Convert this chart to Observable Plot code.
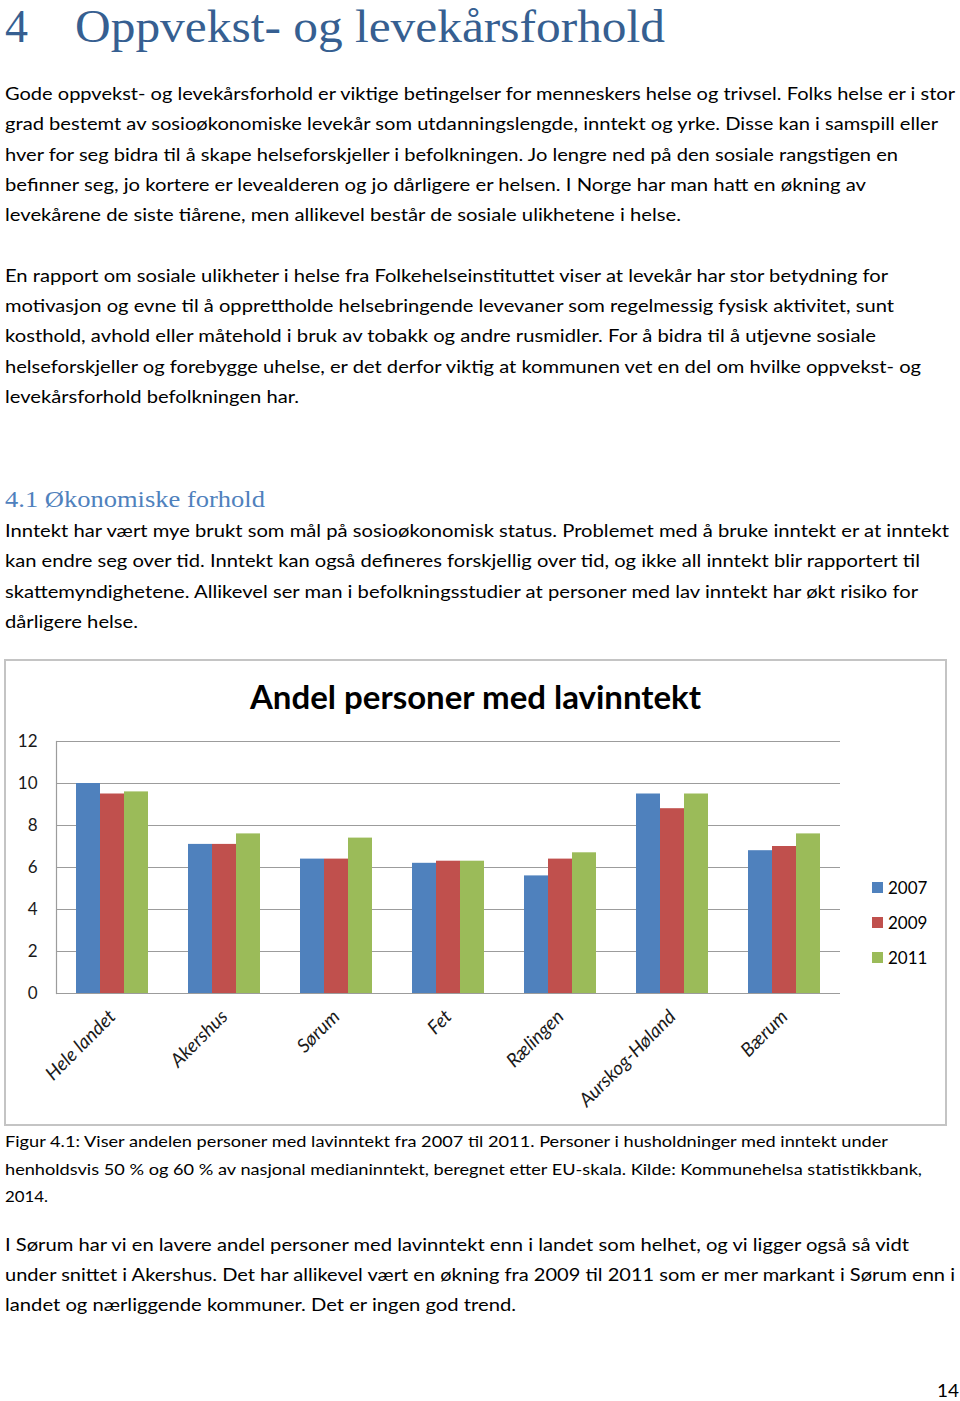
<!DOCTYPE html>
<html>
<head>
<meta charset="utf-8">
<script src="https://cdn.jsdelivr.net/npm/d3@7"></script>
<script src="https://cdn.jsdelivr.net/npm/@observablehq/plot@0.6"></script>
<style>
  html, body { margin: 0; padding: 0; background: #fff; }
  body { width: 960px; height: 1401px; position: relative; overflow: hidden; font-family: Lato, "Open Sans", sans-serif; color: #000; }
  .ln { position: absolute; left: 5px; white-space: nowrap; transform-origin: 0 50%; }
  .body { font-size: 17px; line-height: 30px; height: 30px; }
  .cap { font-size: 16px; line-height: 28px; height: 28px; }
  .h1 { font-family: "Liberation Serif", serif; color: #365F91; font-size: 46px; line-height: 54px; height: 54px; }
  .h2 { font-family: "Liberation Serif", serif; color: #4F81BD; font-size: 24px; line-height: 30px; height: 30px; }
  #chartbox { position: absolute; left: 4px; top: 659px; width: 943px; height: 467px; }
  #chartbox .border { position: absolute; left: 0; top: 0; right: 0; bottom: 0; border: 2px solid #c4c4c4; box-sizing: border-box; pointer-events: none; }
  #chartbox svg { position: absolute; left: 0; top: 0; }
  #ctitle { position: absolute; left: 0; width: 943px; top: 17px; text-align: center; font-weight: 700; font-size: 33px; line-height: 40px; }
  #legend { position: absolute; left: 868px; top: 211px; font-size: 17px; }
  #legend div { height: 35px; line-height: 26px; display: flex; align-items: center; }
  #legend span.sw { display: inline-block; width: 11px; height: 11px; margin-right: 5px; }
</style>
</head>
<body>
<script>
// ---- chart data ----
const categories = ["Hele landet", "Akershus", "Sørum", "Fet", "Rælingen", "Aurskog-Høland", "Bærum"];
const years = ["2007", "2009", "2011"];
const values2007 = [10.0, 7.1, 6.4, 6.2, 5.6, 9.5, 6.8];
const values2009 = [9.5, 7.1, 6.4, 6.3, 6.4, 8.8, 7.0];
const values2011 = [9.6, 7.6, 7.4, 6.3, 6.7, 9.5, 7.6];
const yTicks = [0, 2, 4, 6, 8, 10, 12];
const seriesColors = ["#4F81BD", "#C0504D", "#9BBB59"];
const chartTitle = "Andel personer med lavinntekt";

// ---- page text ----
const textLines = [
  // [class, centerY, text, targetRightEdge]
  ["body", 94, "Gode oppvekst- og levekårsforhold er viktige betingelser for menneskers helse og trivsel. Folks helse er i stor", 955],
  ["body", 124, "grad bestemt av sosioøkonomiske levekår som utdanningslengde, inntekt og yrke. Disse kan i samspill eller", 938],
  ["body", 155, "hver for seg bidra til å skape helseforskjeller i befolkningen. Jo lengre ned på den sosiale rangstigen en", 898],
  ["body", 185, "befinner seg, jo kortere er levealderen og jo dårligere er helsen. I Norge har man hatt en økning av", 866],
  ["body", 215, "levekårene de siste tiårene, men allikevel består de sosiale ulikhetene i helse.", 681],
  ["body", 276, "En rapport om sosiale ulikheter i helse fra Folkehelseinstituttet viser at levekår har stor betydning for", 888],
  ["body", 306, "motivasjon og evne til å opprettholde helsebringende levevaner som regelmessig fysisk aktivitet, sunt", 894],
  ["body", 336, "kosthold, avhold eller måtehold i bruk av tobakk og andre rusmidler. For å bidra til å utjevne sosiale", 876],
  ["body", 367, "helseforskjeller og forebygge uhelse, er det derfor viktig at kommunen vet en del om hvilke oppvekst- og", 921],
  ["body", 397, "levekårsforhold befolkningen har.", 299],
  ["h2", 499, "4.1 Økonomiske forhold", 265],
  ["body", 531, "Inntekt har vært mye brukt som mål på sosioøkonomisk status. Problemet med å bruke inntekt er at inntekt", 949],
  ["body", 561, "kan endre seg over tid. Inntekt kan også defineres forskjellig over tid, og ikke all inntekt blir rapportert til", 920],
  ["body", 592, "skattemyndighetene. Allikevel ser man i befolkningsstudier at personer med lav inntekt har økt risiko for", 918],
  ["body", 622, "dårligere helse.", 138],
  ["cap", 1141, "Figur 4.1: Viser andelen personer med lavinntekt fra 2007 til 2011. Personer i husholdninger med inntekt under", 888],
  ["cap", 1169, "henholdsvis 50 % og 60 % av nasjonal medianinntekt, beregnet etter EU-skala. Kilde: Kommunehelsa statistikkbank,", 922],
  ["cap", 1196, "2014.", 48],
  ["body", 1245, "I Sørum har vi en lavere andel personer med lavinntekt enn i landet som helhet, og vi ligger også så vidt", 909],
  ["body", 1275, "under snittet i Akershus. Det har allikevel vært en økning fra 2009 til 2011 som er mer markant i Sørum enn i", 955],
  ["body", 1305, "landet og nærliggende kommuner. Det er ingen god trend.", 516]
];

function addLine(cls, cy, text, right, left) {
  const d = document.createElement("div");
  d.className = "ln " + cls;
  d.textContent = text;
  document.body.appendChild(d);
  const h = d.getBoundingClientRect().height;
  d.style.top = Math.max(0, cy - h / 2) + "px";
  if (left != null) d.style.left = left + "px";
  const l = left != null ? left : 5;
  const w = d.getBoundingClientRect().width;
  if (right) d.style.transform = `scaleX(${(right - l) / w})`;
  return d;
}

// heading
addLine("h1", 27, "4", 28, 5);
addLine("h1", 27, "Oppvekst- og levekårsforhold", 665, 75);
for (const [cls, cy, t, r] of textLines) addLine(cls, cy, t, r);
addLine("body", 1391, "14", 959, 937);

// ---- chart ----
const box = document.createElement("div");
box.id = "chartbox";
document.body.appendChild(box);

const tableRows = categories.flatMap((c, i) => [
  {category: c, year: years[0], value: values2007[i]},
  {category: c, year: years[1], value: values2009[i]},
  {category: c, year: years[2], value: values2011[i]}
]);

const chart = Plot.plot({
  width: 943,
  height: 467,
  marginLeft: 51,
  marginRight: 107,
  marginTop: 82,
  marginBottom: 133,
  style: {fontFamily: "Lato, sans-serif", fontSize: "17px", color: "#1a1a1a", background: "transparent", overflow: "visible"},
  fx: {domain: categories, padding: 0, axis: "bottom", tickRotate: -45, tickSize: 0, tickPadding: 20, label: null},
  x: {domain: years, paddingInner: 0, paddingOuter: 0.77, axis: null},
  y: {domain: [0, 12], ticks: yTicks, tickSize: 0, tickPadding: 19, label: null},
  color: {domain: years, range: seriesColors},
  marks: [
    Plot.ruleY(yTicks, {stroke: "#9c9c9c", strokeWidth: 1.2, strokeOpacity: 1}),
    Plot.frame({anchor: "left", stroke: "#9c9c9c", strokeWidth: 1.2, facetAnchor: "left"}),
    Plot.barY(tableRows, {fx: "category", x: "year", y: "value", fill: "year"})
  ]
});
box.appendChild(chart);

// italic, slightly larger category labels
chart.querySelectorAll("[aria-label='fx-axis tick label'] text").forEach(t => {
  t.setAttribute("font-style", "italic");
  t.setAttribute("font-size", "19px");
});

const title = document.createElement("div");
title.id = "ctitle";
title.textContent = chartTitle;
box.appendChild(title);

const legend = document.createElement("div");
legend.id = "legend";
years.forEach((y, i) => {
  const row = document.createElement("div");
  const sw = document.createElement("span");
  sw.className = "sw";
  sw.style.background = seriesColors[i];
  row.appendChild(sw);
  row.appendChild(document.createTextNode(y));
  legend.appendChild(row);
});
box.appendChild(legend);

const border = document.createElement("div");
border.className = "border";
box.appendChild(border);
</script>
</body>
</html>
